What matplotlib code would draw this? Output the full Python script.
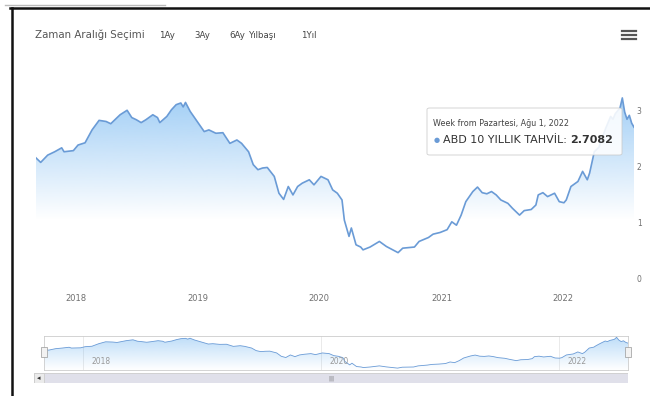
import numpy as np
import pandas as pd
import matplotlib
matplotlib.use("Agg")
import matplotlib.pyplot as plt
import matplotlib.dates as mdates
from matplotlib.patches import Polygon, Rectangle, FancyBboxPatch
from matplotlib.lines import Line2D

# weekly US 10y yield, weeks counted from the first observation
start_date = "2017-09-04"
week_offsets = [0, 2, 5, 8, 11, 12, 16, 18, 21, 24, 27, 30, 32, 36, 39, 41, 43, 45, 47, 50,
                52, 53, 56, 58, 60, 62, 63, 64, 66, 69, 72, 74, 77, 80, 83, 86, 88, 91, 93, 95,
                97, 99, 102, 104, 106, 108, 110, 112, 114, 117, 119, 121, 122, 125, 127, 129, 131, 132, 134, 135,
                137, 139, 140, 143, 147, 150, 155, 157, 162, 164, 168, 170, 173, 176, 178, 180, 182, 184, 187, 189,
                191, 193, 195, 197, 199, 202, 204, 207, 209, 212, 214, 215, 217, 219, 222, 224, 226, 227, 229, 232,
                234, 236, 237, 239, 241, 242, 244, 246, 247, 248, 250, 251, 252, 253, 254, 255, 256]
yield_values = [2.16, 2.08, 2.21, 2.27, 2.34, 2.27, 2.29, 2.39, 2.43, 2.66, 2.83, 2.81, 2.77, 2.93, 3.01, 2.88, 2.84, 2.79, 2.84, 2.93,
                2.88, 2.79, 2.90, 3.02, 3.11, 3.14, 3.07, 3.15, 2.99, 2.81, 2.63, 2.66, 2.60, 2.61, 2.42, 2.48, 2.42, 2.27, 2.04, 1.95,
                1.98, 1.99, 1.83, 1.53, 1.42, 1.65, 1.50, 1.65, 1.71, 1.77, 1.68, 1.78, 1.83, 1.77, 1.59, 1.53, 1.41, 1.05, 0.76, 0.91,
                0.61, 0.57, 0.52, 0.57, 0.67, 0.58, 0.47, 0.55, 0.57, 0.67, 0.74, 0.80, 0.83, 0.88, 1.02, 0.96, 1.14, 1.38, 1.56, 1.64,
                1.54, 1.52, 1.56, 1.50, 1.41, 1.35, 1.26, 1.14, 1.22, 1.24, 1.32, 1.50, 1.54, 1.47, 1.53, 1.38, 1.36, 1.41, 1.65, 1.74,
                1.92, 1.77, 1.89, 2.27, 2.35, 2.48, 2.70, 2.90, 2.85, 2.95, 3.05, 3.23, 2.98, 2.85, 2.92, 2.78, 2.7082]

year_labels = ["2018", "2019", "2020", "2021", "2022"]
nav_year_labels = ["2018", "2020", "2022"]
y_ticks = [0, 1, 2, 3]
range_title = "Zaman Aralığı Seçimi"
range_buttons = ["1Ay", "3Ay", "6Ay", "Yılbaşı", "1Yıl"]
series_name = "ABD 10 YILLIK TAHVİL"
tooltip_header = "Week from Pazartesi, Ağu 1, 2022"

W, H = 650, 396
LINE = "#6a9bd6"
FILL = np.array([122, 186, 242]) / 255


def box(x0, y0, x1, y1):
    return [x0 / W, 1 - y1 / H, (x1 - x0) / W, (y1 - y0) / H]


dates = pd.to_datetime(start_date) + pd.to_timedelta(np.array(week_offsets) * 7, unit="D")
xd = mdates.date2num(dates)
yv = np.array(yield_values)

fig = plt.figure(figsize=(W / 100, H / 100), dpi=100)
fig.patch.set_facecolor("white")


def gradient_area(ax, x, y, base, lo, hi, alpha_top):
    verts = [(x[0], base)] + list(zip(x, y)) + [(x[-1], base)]
    clip = Polygon(verts, closed=True, facecolor="none", edgecolor="none")
    ax.add_patch(clip)
    grad = np.zeros((256, 1, 4))
    grad[..., :3] = FILL
    grad[..., 3] = np.linspace(0, alpha_top, 256)[:, None]
    im = ax.imshow(grad, extent=[x[0], x[-1], lo, hi], origin="lower",
                   aspect="auto", interpolation="bicubic", zorder=1)
    im.set_clip_path(clip)


# main chart
ax = fig.add_axes(box(36, 80, 634, 279))
gradient_area(ax, xd, yv, 0, 1.05, 3.3, 0.72)
ax.plot(xd, yv, color=LINE, lw=1.2, zorder=3, solid_joinstyle="round")
ax.set_xlim(xd[0], xd[-1])
ax.set_ylim(0, 3.55)
for s in ax.spines.values():
    s.set_visible(False)
ax.set_xticks(mdates.date2num(pd.to_datetime([f"{y}-01-01" for y in year_labels])))
ax.set_xticklabels(year_labels)
ax.yaxis.tick_right()
ax.set_yticks(y_ticks)
ax.set_yticklabels([str(t) for t in y_ticks])
ax.tick_params(axis="x", length=0, pad=11, labelsize=6, labelcolor="#707070")
ax.tick_params(axis="y", length=0, pad=2, labelsize=5.5, labelcolor="#707070")

# navigator
nav = fig.add_axes(box(44, 336, 628, 370))
gradient_area(nav, xd, yv, 0, 0.3, 3.3, 0.5)
nav.plot(xd, yv, color=LINE, lw=0.6, zorder=3)
nav.set_xlim(xd[0], xd[-1])
nav.set_ylim(0.3, 3.35)
nav_ticks = mdates.date2num(pd.to_datetime([f"{y}-01-01" for y in nav_year_labels]))
for t, lab in zip(nav_ticks, nav_year_labels):
    nav.axvline(t, color="#e6e6e6", lw=0.6, zorder=0)
    nav.annotate(lab, (t, 0.24), xycoords=nav.get_xaxis_transform(),
                 xytext=(6, 0), textcoords="offset points", fontsize=5.5,
                 color="#999999", ha="left", va="center", zorder=4)
nav.set_xticks([])
nav.set_yticks([])
for s in nav.spines.values():
    s.set_color("#cccccc")
    s.set_linewidth(0.6)

for hx in (44, 628):
    fig.patches.append(Rectangle((hx / W - 3 / W, 1 - 357 / H), 6 / W, 10 / H,
                                 transform=fig.transFigure, facecolor="#f2f2f2",
                                 edgecolor="#999999", lw=0.5, zorder=5))

# scrollbar
sb = fig.add_axes(box(34, 373, 628, 383))
sb.add_patch(Rectangle((0, 0), 1, 1, transform=sb.transAxes, facecolor="#e0e0ea",
                       edgecolor="#cccccc", lw=0.6))
sb.add_patch(Rectangle((0, 0), 10 / 594, 1, transform=sb.transAxes, facecolor="#ebebeb",
                       edgecolor="#cccccc", lw=0.6))
sb.text(5 / 594, 0.5, "◂", transform=sb.transAxes, fontsize=5, color="#333333",
        ha="center", va="center")
sb.text(0.5, 0.5, "|||", transform=sb.transAxes, fontsize=4, color="#555555",
        ha="center", va="center")
sb.set_axis_off()

# range selector
fig.text(35 / W, 1 - 35 / H, range_title, fontsize=7.4, color="#555555", va="center")
for xb, lab in zip([159, 194, 229, 249, 301], range_buttons):
    fig.text(xb / W, 1 - 35 / H, lab, fontsize=6.2, color="#444444", va="center")

# export menu icon
for yy in (31, 35, 39):
    fig.lines.append(Line2D([622 / W, 636 / W], [1 - yy / H] * 2, transform=fig.transFigure,
                            color="#555555", lw=1.6))

# tooltip
fig.patches.append(FancyBboxPatch((427 / W, 1 - 155 / H), 195 / W, 47 / H,
                                  boxstyle="round,pad=0,rounding_size=0.004",
                                  transform=fig.transFigure, facecolor="white", alpha=0.88,
                                  edgecolor="#c8c8c8", lw=0.6, zorder=6))
fig.text(433 / W, 1 - 123 / H, tooltip_header, fontsize=5.8, color="#444444",
         va="center", zorder=7)
fig.text(437 / W, 1 - 140 / H, "●", fontsize=5, color=LINE, va="center", ha="center", zorder=7)
lab = fig.text(443 / W, 1 - 140 / H, f"{series_name}: ", fontsize=8, color="#333333",
               va="center", zorder=7)
fig.canvas.draw()
bb = lab.get_window_extent()
fig.text(bb.x1 / W, 1 - 140 / H, f"{yield_values[-1]:.4f}", fontsize=8,
         fontweight="bold", color="#333333", va="center", zorder=7)

# frame
fig.lines.append(Line2D([10 / W, 1], [1 - 8 / H] * 2, transform=fig.transFigure,
                        color="#111111", lw=1.8))
fig.lines.append(Line2D([12 / W] * 2, [1 - 8 / H, 0], transform=fig.transFigure,
                        color="#111111", lw=1.8))
fig.lines.append(Line2D([5 / W, 165 / W], [1 - 4.5 / H] * 2, transform=fig.transFigure,
                        color="#bbbbbb", lw=1.0))

fig.savefig("out.png", dpi=100)
